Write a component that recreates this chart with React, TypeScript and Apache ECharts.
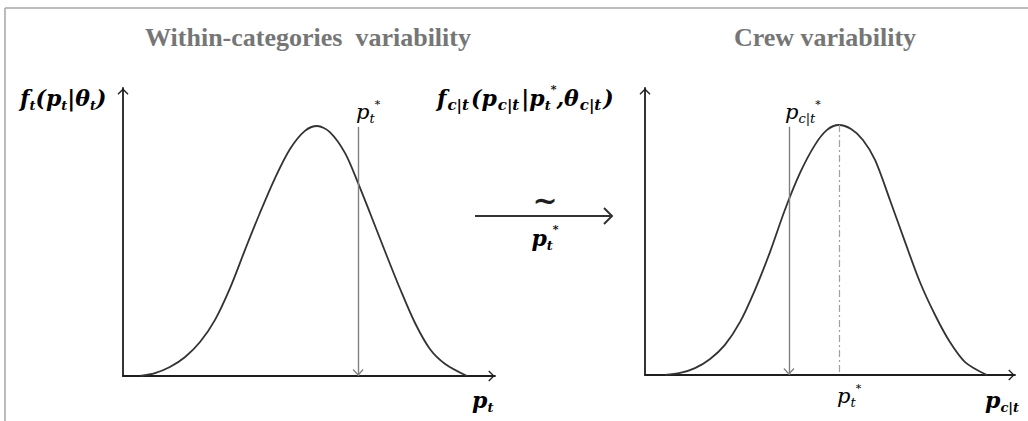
import React, { useEffect, useRef } from 'react';
import * as echarts from 'echarts';

// Within-categories density f_t(p_t | θ_t), sampled along p_t (0–100 scale)
const withinX = [4.6, 8.6, 12.6, 16.7, 20.7, 24.7, 28.8, 32.8, 36.8, 40.9, 44.9, 48.9, 52.2, 55.6, 59.7, 63.2, 66.4, 70.4, 74.5, 78.5, 82.5, 86.6, 92.5];
const withinDensity = [0, 1.0, 3.1, 6.6, 11.8, 19.4, 30.6, 43.8, 56.6, 68.8, 78.8, 85.1, 86.8, 84.7, 77.4, 67.0, 56.6, 43.4, 30.2, 18.4, 9.4, 4.2, 0];

// Crew density f_c|t(p_c|t | p_t*, θ_c|t)
const crewX = [5.4, 9.5, 13.5, 17.6, 21.6, 25.7, 29.7, 33.8, 37.8, 41.9, 45.9, 49.2, 52.4, 55.7, 58.9, 62.2, 66.2, 70.3, 74.3, 78.4, 82.4, 86.5, 92.4];
const crewDensity = [0, 0.7, 2.4, 5.6, 10.5, 18.5, 29.6, 42.9, 57.5, 70.4, 80.1, 85.4, 87.1, 85.7, 81.9, 74.9, 61.0, 46.3, 32.4, 20.9, 11.5, 4.5, 0];

// Drawn values and the height the sampling arrows start from
const pStarWithin = 63.2;
const pStarCrew = 38.9;
const drawTop = 86.5;

const titles = ['Within-categories  variability', 'Crew variability'];

const SERIF = '"Liberation Serif", "DejaVu Serif", serif';
const MATH = '"DejaVu Serif", serif';
const CHEVRON = 'path://M6,0L12,6L11,7L6,2L1,7L0,6Z';
const INK = '#1e1e1e';
const GREY = '#7a7a7a';

const rich = {
  m: { fontFamily: MATH, fontStyle: 'italic', fontWeight: 'bold', fontSize: 22, lineHeight: 28, color: INK },
  th: { fontFamily: MATH, fontStyle: 'italic', fontWeight: 'bold', fontSize: 22, lineHeight: 28, color: INK },
  s: { fontFamily: MATH, fontStyle: 'italic', fontWeight: 'bold', fontSize: 13, lineHeight: 15, verticalAlign: 'bottom', color: INK },
  sw: { fontFamily: MATH, fontStyle: 'italic', fontWeight: 'bold', fontSize: 15, lineHeight: 16, verticalAlign: 'bottom', color: INK, padding: [0, 2, 0, 1] },
  sup: { fontFamily: MATH, fontWeight: 'bold', fontSize: 11, lineHeight: 12, verticalAlign: 'top', color: INK },
  g: { fontFamily: MATH, fontStyle: 'italic', fontSize: 21, lineHeight: 26, color: GREY },
  gs: { fontFamily: MATH, fontStyle: 'italic', fontSize: 13, lineHeight: 14, verticalAlign: 'bottom', color: GREY },
  gsup: { fontFamily: MATH, fontSize: 11, lineHeight: 12, verticalAlign: 'top', color: GREY },
};

const label = (x: number, y: number, text: string, align = 'left') => ({
  type: 'text',
  x,
  y,
  style: { text, rich, textAlign: align, textVerticalAlign: 'middle' },
});

const axisLine = {
  show: true,
  symbol: ['none', CHEVRON],
  symbolSize: [11, 7],
  symbolOffset: [0, -3.5],
  lineStyle: { color: INK, width: 1.8 },
};

const baseAxis = (gridIndex: number) => ({
  gridIndex,
  type: 'value',
  min: 0,
  max: 100,
  axisLine,
  axisTick: { show: false },
  axisLabel: { show: false },
  splitLine: { show: false },
});

const pairs = (xs: number[], ys: number[]) => xs.map((x, i) => [x, ys[i]]);

export default function App() {
  const ref = useRef<HTMLDivElement>(null);

  useEffect(() => {
    if (!ref.current) return;
    const chart = echarts.init(ref.current, undefined, { renderer: 'svg' });

    const modeIdx = crewDensity.indexOf(Math.max(...crewDensity));
    const crewMode = crewX[modeIdx];
    const crewPeak = crewDensity[modeIdx];

    const samplingArrow = (x: number) => [
      { coord: [x, drawTop], symbol: 'none' },
      { coord: [x, 0] },
    ];

    chart.setOption({
      animation: false,
      backgroundColor: '#ffffff',
      grid: [
        { left: 123, top: 88, width: 372, height: 288 },
        { left: 645, top: 88, width: 370, height: 287 },
      ],
      xAxis: [baseAxis(0), baseAxis(1)],
      yAxis: [baseAxis(0), baseAxis(1)],
      series: [
        {
          type: 'line',
          xAxisIndex: 0,
          yAxisIndex: 0,
          data: pairs(withinX, withinDensity),
          smooth: 0.3,
          showSymbol: false,
          lineStyle: { color: '#333333', width: 1.8 },
          markLine: {
            silent: true,
            symbol: ['none', CHEVRON],
            symbolSize: [11, 7],
            symbolOffset: [0, [0, 3.5]],
            label: { show: false },
            lineStyle: { color: '#808080', width: 1.4, type: 'solid' },
            data: [samplingArrow(pStarWithin)],
          },
        },
        {
          type: 'line',
          xAxisIndex: 1,
          yAxisIndex: 1,
          data: pairs(crewX, crewDensity),
          smooth: 0.3,
          showSymbol: false,
          lineStyle: { color: '#333333', width: 1.8 },
          markLine: {
            silent: true,
            symbol: ['none', CHEVRON],
            symbolSize: [11, 7],
            symbolOffset: [0, [0, 3.5]],
            label: { show: false },
            lineStyle: { color: '#808080', width: 1.4, type: 'solid' },
            data: [
              samplingArrow(pStarCrew),
              [
                { coord: [crewMode, crewPeak], symbol: 'none', lineStyle: { color: '#a0a0a0', width: 1.2, type: [7, 3, 2, 3] } },
                { coord: [crewMode, 0], symbol: 'none' },
              ],
            ],
          },
        },
      ],
      graphic: [
        // page frame
        { type: 'line', shape: { x1: 5, y1: 8, x2: 1028, y2: 8 }, style: { stroke: '#a6a6a6', lineWidth: 1.5 } },
        { type: 'line', shape: { x1: 5, y1: 8, x2: 5, y2: 421 }, style: { stroke: '#a6a6a6', lineWidth: 1.5 } },
        // panel titles
        { type: 'text', x: 308, y: 37, style: { text: titles[0], font: `bold 26px ${SERIF}`, fill: '#767676', textAlign: 'center', textVerticalAlign: 'middle' } },
        { type: 'text', x: 825, y: 37, style: { text: titles[1], font: `bold 26px ${SERIF}`, fill: '#767676', textAlign: 'center', textVerticalAlign: 'middle' } },
        // axis names
        label(20, 98, '{m|f}{s|t}{m|(p}{s|t}{m||}{th|θ}{s|t}{m|)}'),
        label(437, 98, '{m|f}{sw|c|t}{m|(p}{sw|c|t}{m||p}{s|t}{sup|*}{m|,}{th|θ}{sw|c|t}{m|)}'),
        label(472, 400, '{m|p}{s|t}'),
        label(985, 400, '{m|p}{s|c|t}'),
        // drawn-value labels
        label(356, 112, '{g|p}{gs|t}{gsup|*}'),
        label(785, 112, '{g|p}{gs|c|t}{gsup|*}'),
        label(837, 396, '{g|p}{gs|t}{gsup|*}'),
        // transition arrow between panels
        { type: 'line', shape: { x1: 475, y1: 216, x2: 612, y2: 216 }, style: { stroke: '#333333', lineWidth: 2 } },
        { type: 'polyline', shape: { points: [[604, 208], [612, 216], [604, 224]] }, style: { stroke: '#333333', lineWidth: 2, fill: 'none' } },
        { type: 'text', x: 545, y: 200, style: { text: '~', font: `bold 30px ${MATH}`, fill: INK, textAlign: 'center', textVerticalAlign: 'middle' } },
        label(545, 238, '{m|p}{s|t}{sup|*}', 'center'),
      ],
    });

    return () => chart.dispose();
  }, []);

  return <div ref={ref} style={{ position: 'fixed', left: 0, top: 0, width: 1028, height: 421 }} />;
}
